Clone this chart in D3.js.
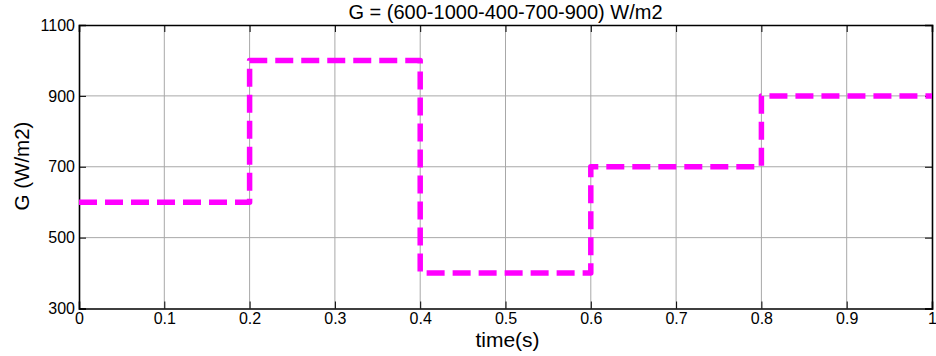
<!DOCTYPE html>
<html>
<head>
<meta charset="utf-8">
<script src="https://cdn.jsdelivr.net/npm/d3@7"></script>
<style>
  body { margin: 0; background: #fff; }
  text { font-family: "Liberation Sans", Arial, sans-serif; fill: #000; }
</style>
</head>
<body>
<div id="chart"></div>
<script>
// irradiance steps: G holds from each time until the next
var times = [0, 0.2, 0.4, 0.6, 0.8, 1];
var G = [600, 1000, 400, 700, 900, 900];
var xTicks = [0, 0.1, 0.2, 0.3, 0.4, 0.5, 0.6, 0.7, 0.8, 0.9, 1];
var yTicks = [300, 500, 700, 900, 1100];

var W = 936, H = 356;
var margin = {top: 25, right: 4, bottom: 47.5, left: 79};
var width = W - margin.left - margin.right,
    height = H - margin.top - margin.bottom;

var svg = d3.select("#chart").append("svg")
    .attr("width", W)
    .attr("height", H);
var g = svg.append("g")
    .attr("transform", "translate(" + margin.left + "," + margin.top + ")");

var x = d3.scaleLinear().domain([0, 1]).range([0, width]);
var y = d3.scaleLinear().domain([300, 1100]).range([height, 0]);

// grid
g.append("g").selectAll("line").data(xTicks.slice(1, -1)).enter().append("line")
    .attr("x1", function(d) { return x(d); }).attr("x2", function(d) { return x(d); })
    .attr("y1", 0).attr("y2", height)
    .attr("stroke", "#a8a8a8").attr("stroke-width", 1);
g.append("g").selectAll("line").data(yTicks.slice(1, -1)).enter().append("line")
    .attr("x1", 0).attr("x2", width)
    .attr("y1", function(d) { return y(d); }).attr("y2", function(d) { return y(d); })
    .attr("stroke", "#a8a8a8").attr("stroke-width", 1);

// axes with inside ticks, boxed
var xAxisB = g.append("g").attr("transform", "translate(0," + height + ")")
    .call(d3.axisBottom(x).tickValues(xTicks).tickSize(-7).tickPadding(4).tickFormat(d3.format("")));
var xAxisT = g.append("g")
    .call(d3.axisTop(x).tickValues(xTicks).tickSize(-7).tickFormat(""));
var yAxisL = g.append("g")
    .call(d3.axisLeft(y).tickValues(yTicks).tickSize(-7).tickPadding(4).tickFormat(d3.format("d")));
var yAxisR = g.append("g").attr("transform", "translate(" + width + ",0)")
    .call(d3.axisRight(y).tickValues(yTicks).tickSize(-7).tickFormat(""));

[xAxisB, xAxisT, yAxisL, yAxisR].forEach(function(a) {
  a.select(".domain").attr("stroke", "#000").attr("stroke-width", 1.6);
  a.selectAll(".tick line").attr("stroke", "#000").attr("stroke-width", 1);
  a.selectAll("text").style("font-size", "16px").attr("fill", "#000")
    .style("font-family", "'Liberation Sans', Arial, sans-serif");
});
xAxisB.selectAll("text").attr("dy", "0.71em");

// step line
var line = d3.line()
    .x(function(d, i) { return x(times[i]); })
    .y(function(d) { return y(d); })
    .curve(d3.curveStepAfter);
g.append("path")
    .datum(G)
    .attr("d", line)
    .attr("fill", "none")
    .attr("stroke", "#ff00ff")
    .attr("stroke-width", 5.5)
    .attr("stroke-dasharray", "18,8")
    .attr("stroke-linejoin", "round");

// title and labels
svg.append("text")
    .attr("x", margin.left + width / 2).attr("y", 19)
    .attr("text-anchor", "middle")
    .style("font-size", "20px")
    .text("G = (600-1000-400-700-900) W/m2");
svg.append("text")
    .attr("x", margin.left + width / 2 + 2).attr("y", 347)
    .attr("text-anchor", "middle")
    .style("font-size", "21px")
    .text("time(s)");
svg.append("text")
    .attr("transform", "translate(29,166) rotate(-90)")
    .attr("text-anchor", "middle")
    .style("font-size", "20.5px")
    .text("G (W/m2)");
</script>
</body>
</html>
